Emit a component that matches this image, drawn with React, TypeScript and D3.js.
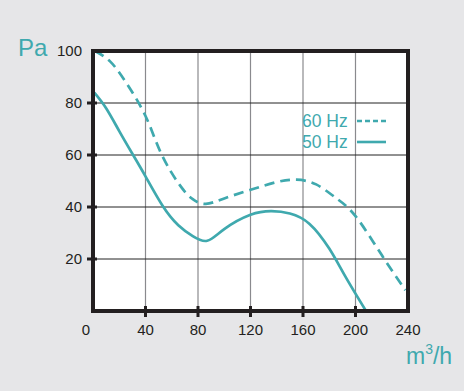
import React from "react";
import * as d3 from "d3";

const xTicks = [0, 40, 80, 120, 160, 200, 240];
const yTicks = [20, 40, 60, 80, 100];
const flow60 = [1.5, 13, 25, 40, 52, 66, 76, 86, 100, 120, 140, 155, 170, 185, 200, 220, 238];
const pa60 = [100, 96, 88, 75, 60.5, 48.5, 43, 41.2, 43.3, 46.6, 49.6, 50.5, 48.7, 43.5, 36.5, 21.5, 8];
const flow50 = [1, 10, 20, 30, 40, 53, 65, 76, 87, 100, 120, 136, 150, 165, 180, 192, 208];
const pa50 = [84, 78, 69.2, 60.5, 51.8, 40.5, 33, 28.8, 27, 31.5, 37, 38.4, 37.5, 33.5, 24, 13.5, 0];
const legend = ["60 Hz", "50 Hz"];

const TEAL = "#3fa9ae";
const W = 464, H = 391;
const L = 93, R = 408, T = 51, B = 311;

export default function App() {
  const x = d3.scaleLinear().domain([0, 240]).range([L, R]);
  const y = d3.scaleLinear().domain([0, 100]).range([B, T]);
  const line = d3
    .line<[number, number]>()
    .x((d) => x(d[0]))
    .y((d) => y(d[1]))
    .curve(d3.curveNatural);
  const d60 = line(flow60.map((f, i) => [f, pa60[i]]));
  const d50 = line(flow50.map((f, i) => [f, pa50[i]]));
  const font = "Arial, 'Liberation Sans', sans-serif";
  return (
    <svg width={W} height={H} style={{ position: "absolute", left: 0, top: 0 }}>
      <rect x={0} y={0} width={W} height={H} fill="#e6e6e8" />
      <rect x={L} y={T} width={R - L} height={B - T} fill="#fff" />
      {xTicks.slice(1, -1).map((t) => (
        <line key={"gx" + t} x1={x(t)} x2={x(t)} y1={T} y2={B} stroke="#8a8a8e" strokeWidth={1.2} />
      ))}
      {yTicks.slice(0, -1).map((t) => (
        <line key={"gy" + t} x1={L} x2={R} y1={y(t)} y2={y(t)} stroke="#222" strokeWidth={1} />
      ))}
      {/* legend */}
      <text x={302} y={127} fill={TEAL} fontFamily={font} fontSize={17.5}>{legend[0]}</text>
      <text x={302} y={147.5} fill={TEAL} fontFamily={font} fontSize={17.5}>{legend[1]}</text>
      <line x1={357} x2={386} y1={121} y2={121} stroke={TEAL} strokeWidth={2.6} strokeDasharray="5,3" />
      <line x1={357} x2={386} y1={142} y2={142} stroke={TEAL} strokeWidth={2.6} />
      {/* curves */}
      <path d={d60 || ""} fill="none" stroke={TEAL} strokeWidth={2.7} strokeDasharray="10,6" />
      <path d={d50 || ""} fill="none" stroke={TEAL} strokeWidth={2.7} />
      {/* frame */}
      <rect x={L} y={T} width={R - L} height={B - T} fill="none" stroke="#231f20" strokeWidth={4} />
      {yTicks.slice(0, -1).map((t) => (
        <line key={"ty" + t} x1={L - 6} x2={L + 4} y1={y(t)} y2={y(t)} stroke="#231f20" strokeWidth={3} />
      ))}
      {xTicks.slice(1, -1).map((t) => (
        <line key={"tx" + t} x1={x(t)} x2={x(t)} y1={B - 5} y2={B + 6} stroke="#231f20" strokeWidth={3} />
      ))}
      {yTicks.map((t) => (
        <text key={"ly" + t} x={82} y={y(t) + 5} textAnchor="end" fontFamily={font} fontSize={15} fill="#231f20">{t}</text>
      ))}
      {xTicks.map((t) => (
        <text key={"lx" + t} x={t === 0 ? x(t) - 7 : x(t)} y={335} textAnchor="middle" fontFamily={font} fontSize={15} fill="#231f20">{t}</text>
      ))}
      <text x={18} y={56} fill={TEAL} fontFamily={font} fontSize={24}>Pa</text>
      <text x={406} y={364} fill={TEAL} fontFamily={font} fontSize={23}>
        m<tspan fontSize={14} dy={-10}>3</tspan><tspan dy={10}>/h</tspan>
      </text>
    </svg>
  );
}
